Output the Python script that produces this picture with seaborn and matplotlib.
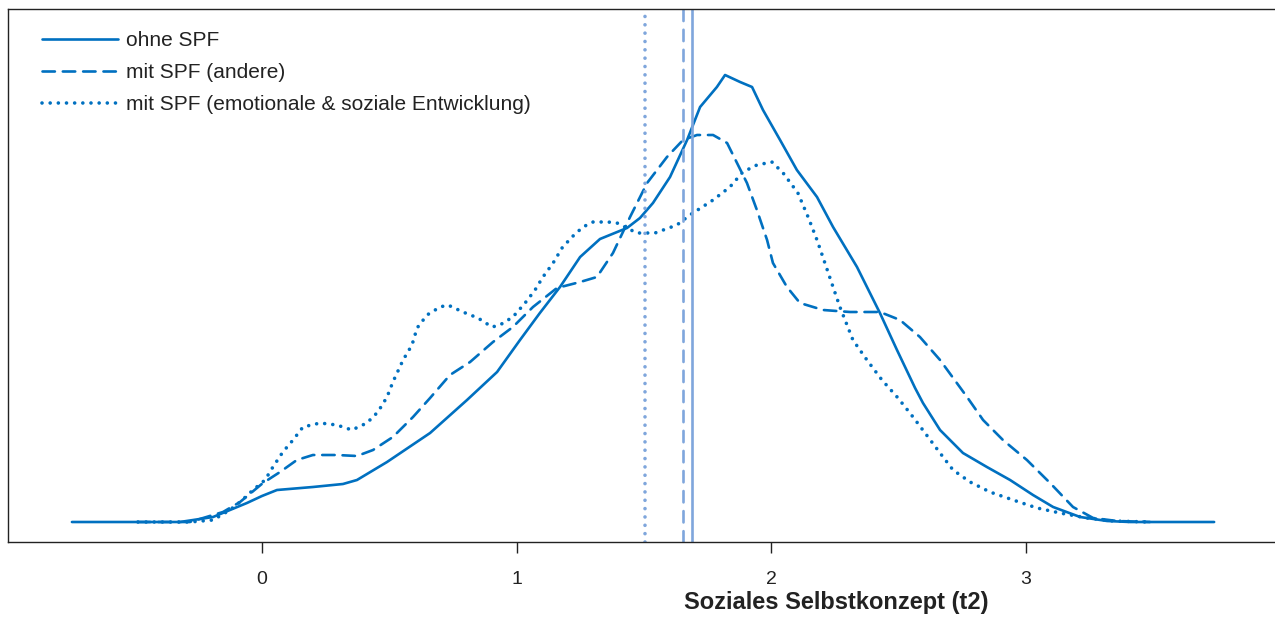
import numpy as np
import pandas as pd
import matplotlib
matplotlib.use("Agg")
import matplotlib.pyplot as plt
import seaborn as sns

sns.set_style("white")
plt.rcParams['font.family'] = ['Liberation Sans', 'DejaVu Sans']

# --- data (density estimates) ---
ohne_x = [-0.746, -0.322, -0.192, -0.059, 0.000, 0.059, 0.200, 0.318, 0.373, 0.491,
          0.660, 0.805, 0.923, 1.013, 1.091, 1.170, 1.249, 1.327, 1.433, 1.484,
          1.535, 1.602, 1.669, 1.720, 1.786, 1.818, 1.877, 1.924, 1.967, 2.034,
          2.100, 2.179, 2.242, 2.336, 2.426, 2.493, 2.564, 2.595, 2.662, 2.752,
          2.846, 2.937, 3.027, 3.106, 3.212, 3.318, 3.408, 3.738]
ohne_y = [0.000, 0.000, 0.005, 0.019, 0.026, 0.032, 0.035, 0.038, 0.042, 0.060,
          0.089, 0.122, 0.150, 0.182, 0.209, 0.235, 0.265, 0.283, 0.294, 0.304,
          0.319, 0.345, 0.382, 0.415, 0.435, 0.447, 0.440, 0.435, 0.412, 0.382,
          0.352, 0.325, 0.295, 0.255, 0.209, 0.172, 0.134, 0.119, 0.092, 0.069,
          0.055, 0.042, 0.027, 0.015, 0.005, 0.001, 0.000, 0.000]

andere_x = [-0.487, -0.283, -0.153, -0.086, 0.004, 0.071, 0.137, 0.200, 0.294, 0.373,
            0.436, 0.514, 0.593, 0.660, 0.738, 0.817, 0.907, 0.985, 1.064, 1.158,
            1.249, 1.315, 1.378, 1.445, 1.512, 1.590, 1.653, 1.708, 1.771, 1.826,
            1.865, 1.904, 1.943, 1.983, 2.006, 2.061, 2.112, 2.203, 2.309, 2.426,
            2.505, 2.583, 2.662, 2.768, 2.831, 2.909, 3.003, 3.094, 3.184, 3.263,
            3.357, 3.486]
andere_y = [0.000, 0.000, 0.010, 0.020, 0.039, 0.050, 0.062, 0.067, 0.067, 0.066,
            0.072, 0.085, 0.105, 0.124, 0.147, 0.160, 0.180, 0.195, 0.215, 0.234,
            0.240, 0.245, 0.269, 0.305, 0.339, 0.365, 0.382, 0.387, 0.387, 0.379,
            0.359, 0.339, 0.312, 0.282, 0.259, 0.235, 0.219, 0.212, 0.210, 0.210,
            0.202, 0.185, 0.162, 0.125, 0.102, 0.082, 0.062, 0.039, 0.015, 0.004,
            0.001, 0.000]

emo_x = [-0.487, -0.283, -0.192, -0.126, -0.086, -0.035, 0.012, 0.043, 0.082, 0.122,
         0.161, 0.228, 0.294, 0.353, 0.412, 0.455, 0.491, 0.514, 0.554, 0.589,
         0.609, 0.648, 0.699, 0.730, 0.789, 0.848, 0.903, 0.934, 0.985, 1.033,
         1.072, 1.103, 1.143, 1.178, 1.217, 1.260, 1.300, 1.358, 1.394, 1.472,
         1.543, 1.629, 1.680, 1.771, 1.837, 1.888, 1.943, 2.002, 2.046, 2.104,
         2.144, 2.179, 2.210, 2.242, 2.269, 2.320, 2.375, 2.434, 2.497, 2.556,
         2.615, 2.662, 2.713, 2.780, 2.858, 2.949, 3.043, 3.133, 3.239, 3.341,
         3.486]
emo_y = [0.000, 0.000, 0.002, 0.012, 0.020, 0.032, 0.042, 0.055, 0.070, 0.082,
         0.095, 0.099, 0.097, 0.092, 0.099, 0.110, 0.125, 0.140, 0.162, 0.177,
         0.194, 0.207, 0.215, 0.217, 0.210, 0.204, 0.195, 0.197, 0.205, 0.219,
         0.232, 0.245, 0.259, 0.274, 0.285, 0.295, 0.300, 0.300, 0.299, 0.289,
         0.289, 0.297, 0.307, 0.322, 0.335, 0.350, 0.357, 0.360, 0.349, 0.329,
         0.305, 0.282, 0.259, 0.235, 0.215, 0.182, 0.162, 0.142, 0.124, 0.105,
         0.085, 0.069, 0.052, 0.040, 0.030, 0.022, 0.014, 0.009, 0.004, 0.001,
         0.000]

labels = ["ohne SPF", "mit SPF (andere)", "mit SPF (emotionale & soziale Entwicklung)"]
means = [1.688, 1.653, 1.504]
xticks = [0, 1, 2, 3]
xlabel = "Soziales Selbstkonzept (t2)"

curve_color = "#0070C0"
mean_color = "#7FA6DC"
# (linestyle, linewidth) for curves and mean lines
styles = [("-", 1.9), ((0, (4.7, 3.0)), 1.9), ((0, (0.01, 2.25)), 2.6)]
vstyles = [("-", 1.9), ((0, (4.3, 3.3)), 1.9), ((0, (0.01, 2.3)), 2.6)]

fig = plt.figure(figsize=(12.75, 6.23), dpi=100)
ax = fig.add_axes([8 / 1275, 1 - 542 / 623, 1 - 8 / 1275, (542 - 9) / 623])

series = [(ohne_x, ohne_y), (andere_x, andere_y), (emo_x, emo_y)]
for (xs, ys), lab, (ls, lw) in zip(series, labels, styles):
    df = pd.DataFrame({"x": xs, "y": ys})
    sns.lineplot(data=df, x="x", y="y", ax=ax, color=curve_color, lw=lw,
                 linestyle=ls, label=lab, estimator=None, sort=False)
for line in ax.get_lines():
    line.set_dash_capstyle("round")

for m, (ls, lw) in zip(means, vstyles):
    vl = ax.axvline(m, color=mean_color, lw=lw, linestyle=ls)
    vl.set_dash_capstyle("round")

ax.set_xlim(-0.997, 3.977)
ax.set_ylim(-0.020, 0.513)
ax.set_xticks(xticks)
ax.set_xticklabels([str(t) for t in xticks], fontsize=14, color="#222222")
ax.set_yticks([])
ax.tick_params(axis="x", direction="out", length=8, width=1.0, color="#222222",
               bottom=True, pad=13)
ax.set_xlabel(xlabel, fontsize=17, fontweight="bold", color="#222222")
ax.xaxis.set_label_coords((836 - 8) / 1267, -(603 - 542) / 533)
ax.xaxis.label.set_va("center")
ax.set_ylabel("")

for s in ["left", "bottom", "top"]:
    ax.spines[s].set_visible(True)
    ax.spines[s].set_color("#222222")
    ax.spines[s].set_linewidth(1.0)
ax.spines["right"].set_visible(False)

leg = ax.legend(loc="upper left", bbox_to_anchor=((42 - 8) / 1267, 1 - (31 - 9) / 533),
                frameon=False, fontsize=15, handlelength=3.65, handletextpad=0.38,
                labelspacing=0.62, borderpad=0, borderaxespad=0)
for t in leg.get_texts():
    t.set_color("#222222")
for h in leg.get_lines():
    h.set_dash_capstyle("round")

fig.savefig("out.png", dpi=100)
